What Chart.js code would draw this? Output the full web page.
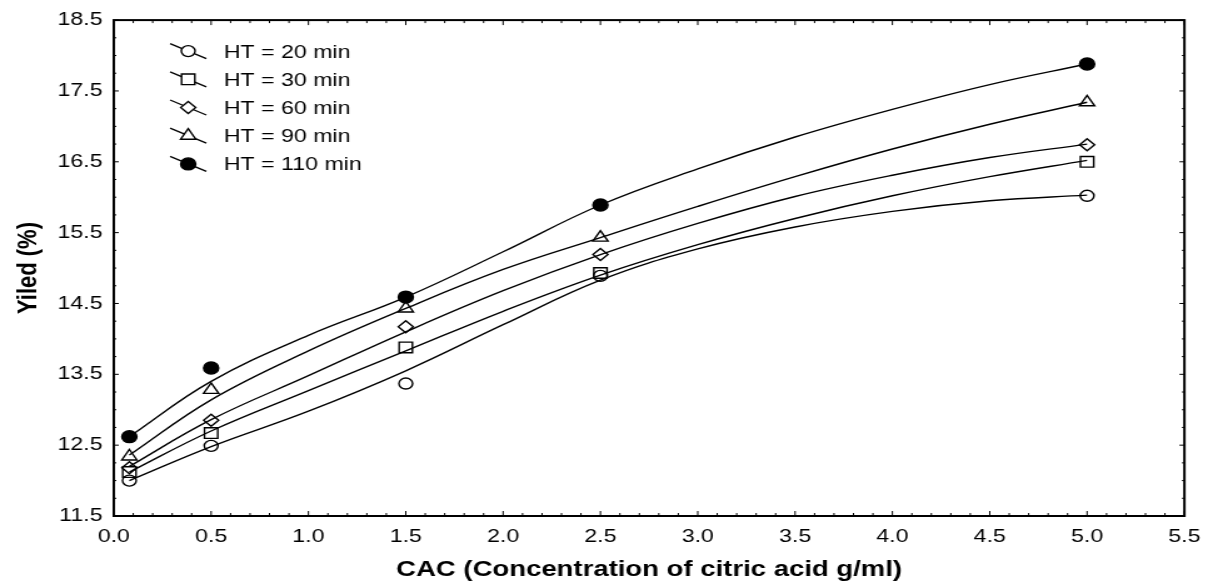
<!DOCTYPE html>
<html>
<head>
<meta charset="utf-8">
<title>Yiled x CAC</title>
<script src="https://cdn.jsdelivr.net/npm/chart.js@4.4.0/dist/chart.umd.min.js"></script>
<style>
    html, body { margin: 0; padding: 0; background: #fff; overflow: hidden; }
    /* o original é esticado na horizontal, então desenha estreito e estica */
    #grafico { display: block; transform: scaleX(1.2505); transform-origin: 0 0; }
</style>
</head>
<body>
<canvas id="grafico" width="970" height="584"></canvas>
<script>
// pontos medidos (CAC x rendimento)
const cacPontos = [0.08, 0.5, 1.5, 2.5, 5.0];
const yield20 = [12.00, 12.49, 13.37, 14.89, 16.02];
const yield30 = [12.12, 12.67, 13.88, 14.93, 16.50];
const yield60 = [12.18, 12.85, 14.17, 15.19, 16.74];
const yield90 = [12.34, 13.28, 14.43, 15.43, 17.34];
const yield110 = [12.62, 13.59, 14.59, 15.89, 17.88];

// curvas ajustadas
const cacCurva = [0.08, 0.5, 1.0, 1.5, 2.0, 2.5, 3.0, 3.5, 4.0, 4.5, 5.0];
const curva20 = [12.00, 12.48, 12.98, 13.55, 14.20, 14.83, 15.27, 15.58, 15.80, 15.95, 16.03];
const curva30 = [12.12, 12.70, 13.27, 13.83, 14.39, 14.90, 15.33, 15.70, 16.02, 16.29, 16.52];
const curva60 = [12.20, 12.86, 13.48, 14.10, 14.68, 15.19, 15.63, 16.01, 16.31, 16.56, 16.75];
const curva90 = [12.36, 13.14, 13.83, 14.43, 14.98, 15.43, 15.87, 16.29, 16.68, 17.03, 17.34];
const curva110 = [12.62, 13.40, 14.05, 14.59, 15.23, 15.89, 16.40, 16.85, 17.24, 17.59, 17.88];

const legendas = ['HT = 20 min', 'HT = 30 min', 'HT = 60 min', 'HT = 90 min', 'HT = 110 min'];
const xTickLabels = ['0.0', '0.5', '1.0', '1.5', '2.0', '2.5', '3.0', '3.5', '4.0', '4.5', '5.0', '5.5'];
const yTickLabels = ['11.5', '12.5', '13.5', '14.5', '15.5', '16.5', '17.5', '18.5'];

const fonte = '"Liberation Sans", Arial, sans-serif';

const series = [
    { label: legendas[0], pts: yield20, fit: curva20, estilo: 'circle', raio: 5.5, cheio: false },
    { label: legendas[1], pts: yield30, fit: curva30, estilo: 'rect', raio: 7.5, cheio: false },
    { label: legendas[2], pts: yield60, fit: curva60, estilo: 'rectRot', raio: 6, cheio: false },
    { label: legendas[3], pts: yield90, fit: curva90, estilo: 'triangle', raio: 7, cheio: false },
    { label: legendas[4], pts: yield110, fit: curva110, estilo: 'circle', raio: 6, cheio: true }
];

const datasets = [];
// marcadores primeiro (ficam por cima)
series.forEach(s => {
    datasets.push({
        label: s.label,
        data: cacPontos.map((c, i) => ({ x: c, y: s.pts[i] })),
        showLine: false,
        pointStyle: s.estilo,
        pointRadius: s.raio,
        pointHoverRadius: s.raio,
        pointBorderWidth: 1.4,
        pointBorderColor: '#000',
        pointBackgroundColor: s.cheio ? '#000' : 'rgba(0,0,0,0)'
    });
});
series.forEach(s => {
    datasets.push({
        label: s.label + ' (ajuste)',
        data: cacCurva.map((c, i) => ({ x: c, y: s.fit[i] })),
        showLine: true,
        borderColor: '#000',
        borderWidth: 1.4,
        pointRadius: 0,
        tension: 0.4
    });
});

// moldura com ticks para dentro
const molduraPlugin = {
    id: 'moldura',
    afterDraw(chart) {
        const { ctx, chartArea: a, scales: { x, y } } = chart;
        ctx.save();
        ctx.strokeStyle = '#000';
        ctx.lineWidth = 2;
        ctx.strokeRect(a.left, a.top, a.right - a.left, a.bottom - a.top);
        ctx.lineWidth = 1;
        ctx.beginPath();
        for (let i = 0; i <= 55; i++) {
            const px = x.getPixelForValue(i / 10);
            const len = i % 5 === 0 ? 5 : 3;
            ctx.moveTo(px, a.bottom); ctx.lineTo(px, a.bottom - len);
            ctx.moveTo(px, a.top); ctx.lineTo(px, a.top + len);
        }
        for (let i = 0; i <= 28; i++) {
            const py = y.getPixelForValue(11.5 + i * 0.25);
            const len = i % 4 === 0 ? 4 : 2;
            ctx.moveTo(a.left, py); ctx.lineTo(a.left + len, py);
            ctx.moveTo(a.right, py); ctx.lineTo(a.right - len, py);
        }
        ctx.stroke();
        ctx.restore();
    }
};

// legenda com a linha inclinada atravessando o marcador
const legendaPlugin = {
    id: 'legenda',
    afterDraw(chart) {
        const { ctx, chartArea: a } = chart;
        series.forEach((s, i) => {
            const yc = a.top + 31.5 + i * 28.2;
            const x0 = a.left + 45;
            ctx.save();
            ctx.strokeStyle = '#000';
            ctx.lineWidth = 1.3;
            ctx.beginPath();
            ctx.moveTo(x0, yc - 8);
            ctx.lineTo(x0 + 29, yc + 7);
            ctx.stroke();
            ctx.fillStyle = s.cheio ? '#000' : '#fff';
            ctx.lineWidth = 1.4;
            Chart.helpers.drawPoint(ctx, { pointStyle: s.estilo, radius: s.raio, rotation: 0, borderWidth: 1.4 }, x0 + 14.5, yc - 0.5);
            ctx.fillStyle = '#000';
            ctx.font = '18.5px ' + fonte;
            ctx.textBaseline = 'middle';
            ctx.textAlign = 'left';
            ctx.fillText(s.label, a.left + 88, yc + 1);
            ctx.restore();
        });
    }
};

const ctx = document.getElementById('grafico');

new Chart(ctx, {
    type: 'scatter',
    data: { datasets: datasets },
    options: {
        responsive: false,
        animation: false,
        devicePixelRatio: 1,
        layout: { padding: { top: 19, right: 20, left: 0, bottom: 0 } },
        plugins: {
            legend: { display: false },
            tooltip: { enabled: false }
        },
        scales: {
            x: {
                type: 'linear',
                min: 0,
                max: 5.5,
                grid: { display: false, drawTicks: false },
                border: { display: false },
                ticks: {
                    stepSize: 0.5,
                    padding: 10,
                    color: '#000',
                    maxRotation: 0,
                    font: { family: fonte, size: 18.5 },
                    callback: (v, i) => xTickLabels[i]
                },
                title: {
                    display: true,
                    text: 'CAC (Concentration of citric acid g/ml)',
                    color: '#000',
                    font: { family: fonte, size: 22, weight: 'bold' },
                    padding: { top: 0, bottom: 1 }
                },
                afterFit: s => { s.height = 68; }
            },
            y: {
                type: 'linear',
                min: 11.5,
                max: 18.5,
                grid: { display: false, drawTicks: false },
                border: { display: false },
                ticks: {
                    stepSize: 1,
                    padding: 9,
                    color: '#000',
                    font: { family: fonte, size: 18.5 },
                    callback: (v, i) => yTickLabels[i]
                },
                title: {
                    display: true,
                    text: 'Yiled (%)',
                    color: '#000',
                    font: { family: fonte, size: 22, weight: 'bold' },
                    padding: { top: 10, bottom: 0 }
                },
                afterFit: s => { s.width = 91; }
            }
        }
    },
    plugins: [molduraPlugin, legendaPlugin]
});
</script>
</body>
</html>
